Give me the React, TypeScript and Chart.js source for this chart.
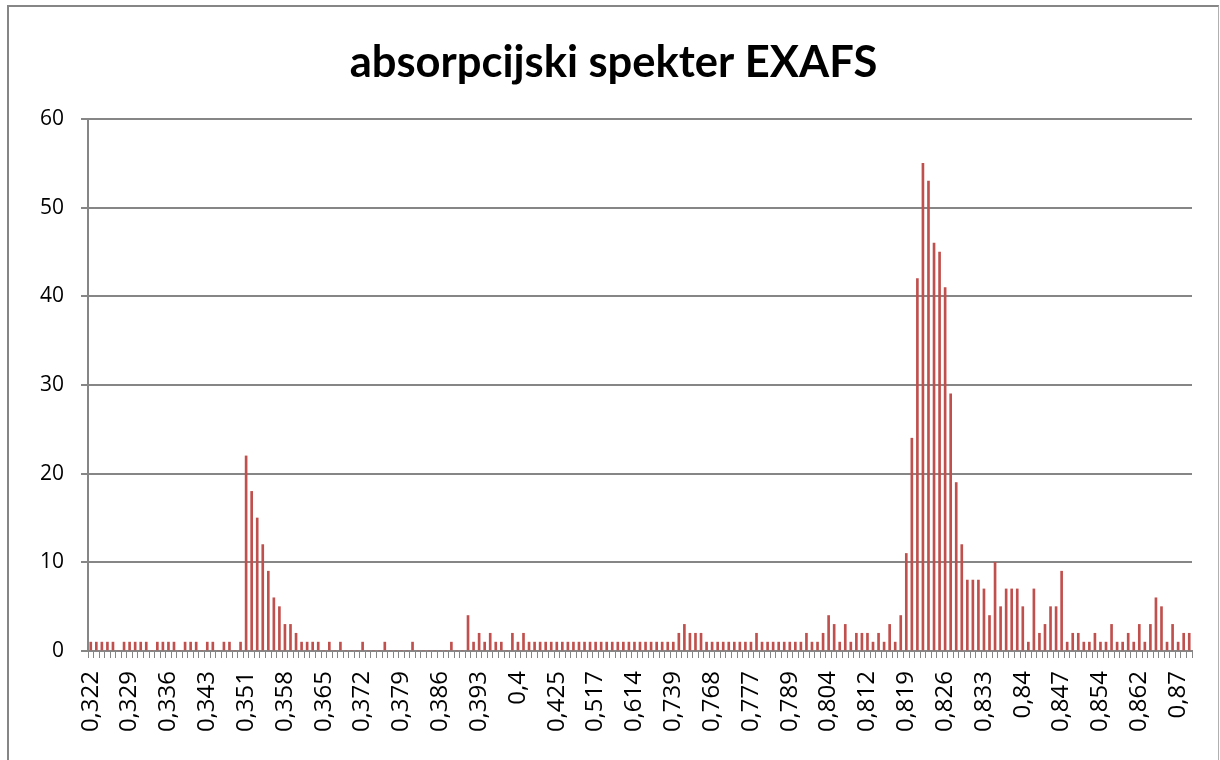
import React, { useEffect, useRef } from 'react';
import { Chart, registerables } from 'chart.js';

Chart.register(...registerables);

const TITLE = 'absorpcijski spekter EXAFS';

// tick labels shown on the category axis (one every LABEL_STEP categories)
const TICK_LABELS = [
  '0,322', '0,329', '0,336', '0,343', '0,351', '0,358', '0,365', '0,372', '0,379', '0,386',
  '0,393', '0,4', '0,425', '0,517', '0,614', '0,739', '0,768', '0,777', '0,789', '0,804',
  '0,812', '0,819', '0,826', '0,833', '0,84', '0,847', '0,854', '0,862', '0,87',
];
const LABEL_STEP = 7;

// counts per category (199 categories)
const VALUES = [
  1, 1, 1, 1, 1, 0, 1, 1, 1, 1,
  1, 0, 1, 1, 1, 1, 0, 1, 1, 1,
  0, 1, 1, 0, 1, 1, 0, 1, 22, 18,
  15, 12, 9, 6, 5, 3, 3, 2, 1, 1,
  1, 1, 0, 1, 0, 1, 0, 0, 0, 1,
  0, 0, 0, 1, 0, 0, 0, 0, 1, 0,
  0, 0, 0, 0, 0, 1, 0, 0, 4, 1,
  2, 1, 2, 1, 1, 0, 2, 1, 2, 1,
  1, 1, 1, 1, 1, 1, 1, 1, 1, 1,
  1, 1, 1, 1, 1, 1, 1, 1, 1, 1,
  1, 1, 1, 1, 1, 1, 2, 3, 2, 2,
  2, 1, 1, 1, 1, 1, 1, 1, 1, 1,
  2, 1, 1, 1, 1, 1, 1, 1, 1, 2,
  1, 1, 2, 4, 3, 1, 3, 1, 2, 2,
  2, 1, 2, 1, 3, 1, 4, 11, 24, 42,
  55, 53, 46, 45, 41, 29, 19, 12, 8, 8,
  8, 7, 4, 10, 5, 7, 7, 7, 5, 1,
  7, 2, 3, 5, 5, 9, 1, 2, 2, 1,
  1, 2, 1, 1, 3, 1, 1, 2, 1, 3,
  1, 3, 6, 5, 1, 3, 1, 2, 2,
];

const Y_MIN = 0;
const Y_MAX = 60;
const Y_STEP = 10;

const CATEGORIES = VALUES.map((_, i) =>
  i % LABEL_STEP === 0 ? TICK_LABELS[i / LABEL_STEP] ?? '' : ''
);

const GRAY = '#868686';
const BAR = '#C0504D';

const titlePlugin = {
  id: 'excelTitle',
  afterDraw(chart: any) {
    const ctx = chart.ctx;
    ctx.save();
    ctx.font = 'bold 43.5px Lato';
    ctx.fillStyle = '#000';
    ctx.textAlign = 'center';
    ctx.textBaseline = 'alphabetic';
    ctx.fillText(TITLE, 613.5, 77);
    ctx.restore();
  },
};

export default function App() {
  const ref = useRef<HTMLCanvasElement | null>(null);

  useEffect(() => {
    if (!ref.current) return;
    const chart = new Chart(ref.current, {
      type: 'bar',
      data: {
        labels: CATEGORIES,
        datasets: [
          {
            data: VALUES,
            backgroundColor: BAR,
            borderWidth: 0,
            barThickness: 2,
          },
        ],
      },
      options: {
        animation: false,
        responsive: false,
        devicePixelRatio: 1,
        layout: { padding: { left: 0, right: 28, top: 119, bottom: 0 } },
        plugins: {
          legend: { display: false },
          tooltip: { enabled: false },
          title: { display: false },
        },
        scales: {
          x: {
            grid: {
              offset: true,
              drawOnChartArea: false,
              tickLength: 7,
              color: GRAY,
              lineWidth: 1,
            },
            border: { color: GRAY, width: 2 },
            ticks: {
              autoSkip: false,
              maxRotation: 90,
              minRotation: 90,
              padding: 13,
              color: '#000',
              font: { family: 'Open Sans', size: 24 },
            },
            afterFit: (s: any) => {
              s.height = 109;
              s.paddingLeft = 0;
              s.paddingRight = 0;
            },
          },
          y: {
            min: Y_MIN,
            max: Y_MAX,
            ticks: {
              stepSize: Y_STEP,
              padding: 17,
              color: '#000',
              font: { family: 'Open Sans', size: 21 },
            },
            grid: { color: GRAY, lineWidth: 2, tickLength: 7 },
            border: { color: GRAY, width: 2 },
            afterFit: (s: any) => {
              s.width = 88;
              s.paddingTop = 0;
              s.paddingBottom = 0;
            },
          },
        },
      },
      plugins: [titlePlugin],
    });
    return () => chart.destroy();
  }, []);

  return (
    <>
      <div
        style={{
          position: 'fixed',
          left: 0,
          top: 0,
          width: 1220,
          height: 760,
          background: '#fff',
        }}
      >
        <canvas ref={ref} width={1220} height={760} style={{ display: 'block' }} />
      </div>
      <div
        style={{
          position: 'fixed',
          left: 7,
          top: 5,
          width: 1209,
          height: 800,
          border: `2px solid ${GRAY}`,
          borderRightWidth: 1,
          borderRightColor: '#b0b0b0',
          pointerEvents: 'none',
        }}
      />
    </>
  );
}
